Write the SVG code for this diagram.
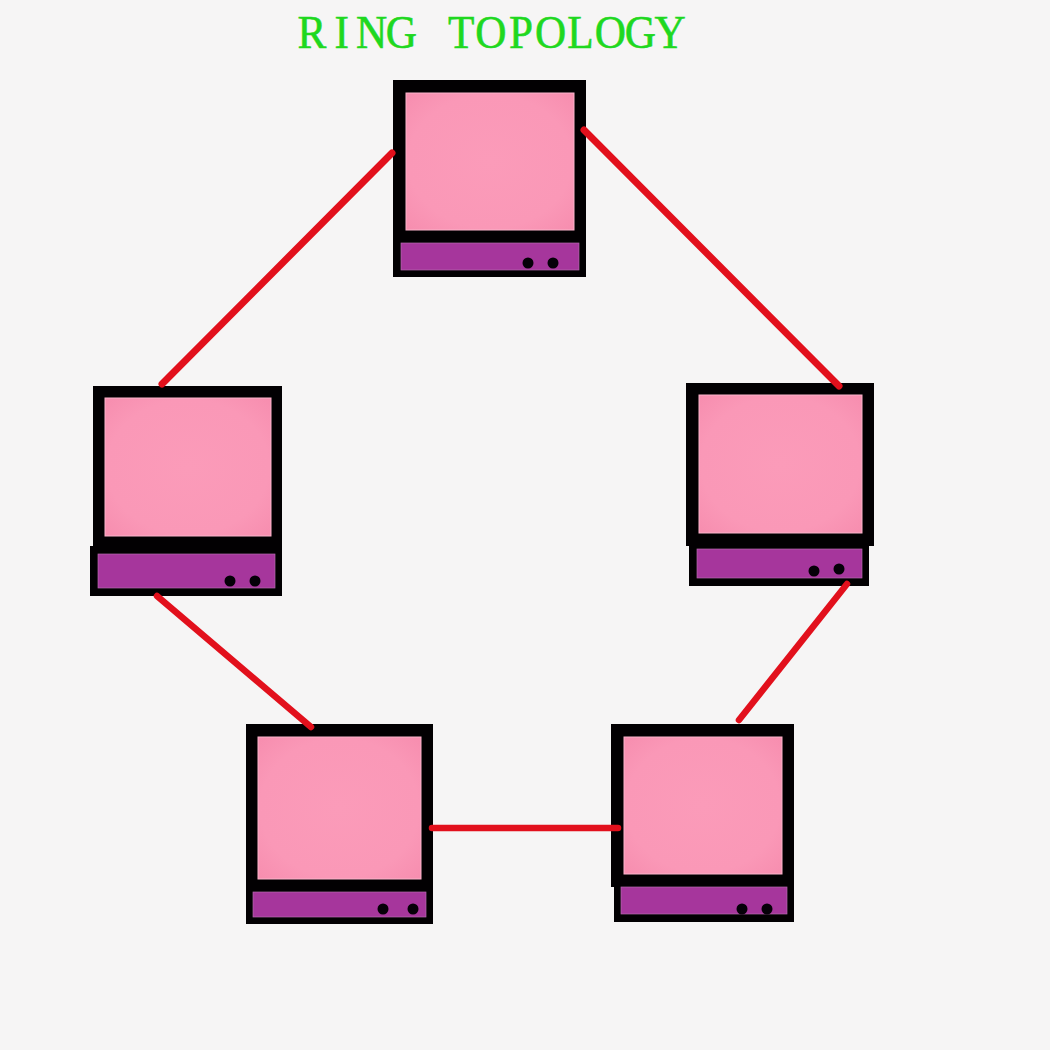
<svg xmlns="http://www.w3.org/2000/svg" width="1050" height="1050" viewBox="0 0 1050 1050">
<style>
.k{fill:#020002}
.s{fill:url(#pink);stroke:#fbb4cb;stroke-width:1}
.b{fill:#a6369c;stroke:#b56aae;stroke-width:.7}
.d{fill:#050008}
.w{stroke:#e2101c;stroke-width:7;fill:none;stroke-linecap:round}
.r{stroke-width:6.5}
.t{font-family:"Liberation Serif","Times New Roman",serif;font-size:47px;fill:#1fd81f;stroke:#1fd81f;stroke-width:.6}
</style>
<defs>
<radialGradient id="pink" cx="50%" cy="50%" r="75%">
<stop offset="0" stop-color="#fb9bb9"/><stop offset=".65" stop-color="#fa98b7"/><stop offset="1" stop-color="#f68bad"/>
</radialGradient>
</defs>
<rect width="1050" height="1050" fill="#f6f5f5"/>
<text class="t" transform="scale(.92,1)" y="48" x="323.4 363.7 387 419.4 470 487 516.7 553.2 581.6 616.7 646.5 679 711.4">RING TOPOLOGY</text>
<g id="node-top">
<rect class="k" x="393" y="80" width="193" height="197"/>
<rect class="s" x="406" y="93" width="168" height="137"/>
<rect class="b" x="401" y="243" width="178" height="27"/>
<circle class="d" cx="528" cy="263" r="5.5"/><circle class="d" cx="553" cy="263" r="5.5"/>
</g>
<g id="node-left">
<rect class="k" x="93" y="386" width="189" height="170"/>
<rect class="k" x="90" y="546" width="192" height="50"/>
<rect class="s" x="105" y="398" width="166" height="138"/>
<rect class="b" x="98" y="554" width="177" height="34"/>
<circle class="d" cx="230" cy="581" r="5.5"/><circle class="d" cx="255" cy="581" r="5.5"/>
</g>
<g id="node-right">
<rect class="k" x="686" y="383" width="188" height="163"/>
<rect class="k" x="689" y="540" width="180" height="46"/>
<rect class="s" x="699" y="395" width="163" height="138"/>
<rect class="b" x="697" y="549" width="165" height="29"/>
<circle class="d" cx="814" cy="571" r="5.5"/><circle class="d" cx="839" cy="569" r="5.5"/>
</g>
<g id="node-bottom-left">
<rect class="k" x="246" y="724" width="187" height="200"/>
<rect class="s" x="258" y="737" width="163" height="142"/>
<rect class="b" x="253" y="892" width="173" height="25"/>
<circle class="d" cx="383" cy="909" r="5.5"/><circle class="d" cx="413" cy="909" r="5.5"/>
</g>
<g id="node-bottom-right">
<rect class="k" x="611" y="724" width="183" height="163"/>
<rect class="k" x="614" y="880" width="180" height="42"/>
<rect class="s" x="624" y="737" width="158" height="137"/>
<rect class="b" x="621" y="887" width="166" height="27"/>
<circle class="d" cx="742" cy="909" r="5.5"/><circle class="d" cx="767" cy="909" r="5.5"/>
</g>
<g id="connectors">
<line class="w" x1="392" y1="153" x2="162" y2="384"/>
<line class="w" x1="584" y1="130" x2="839" y2="386"/>
<line class="w r" x1="157" y1="596" x2="311" y2="727"/>
<line class="w r" x1="847" y1="584" x2="739" y2="720"/>
<line class="w r" x1="432" y1="828" x2="618" y2="828"/>
</g>
</svg>
